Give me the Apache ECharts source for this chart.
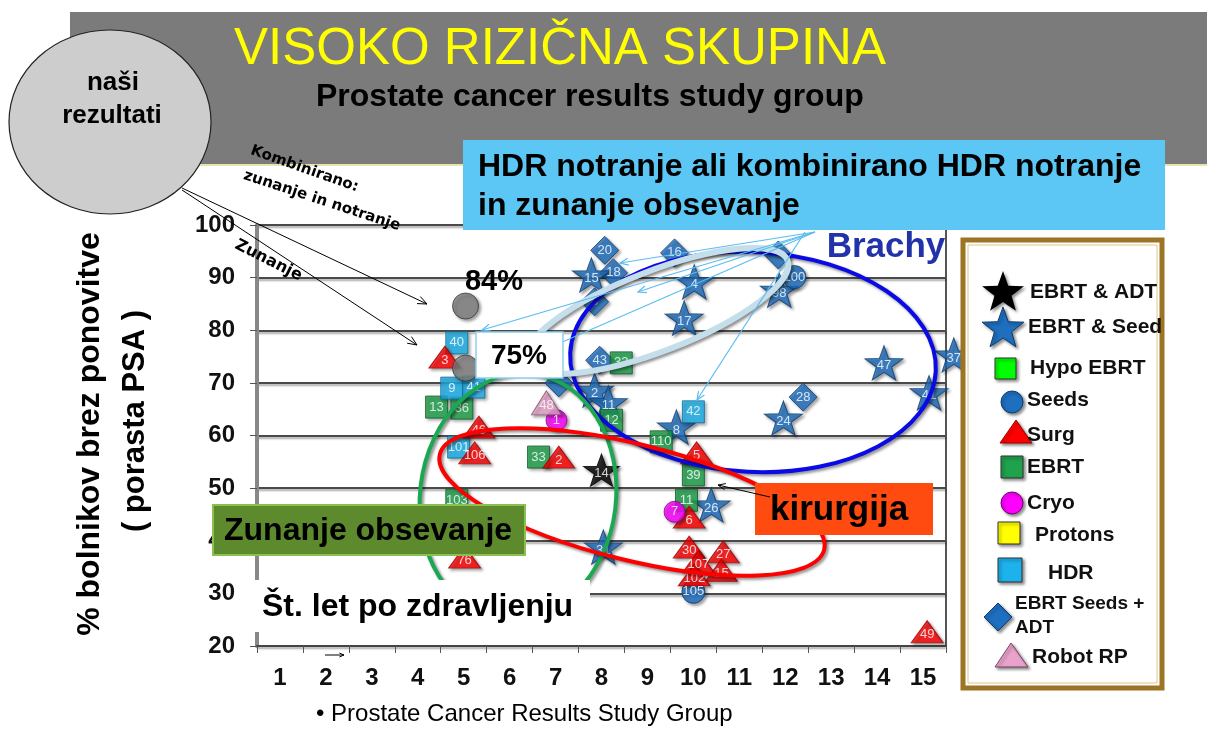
<!DOCTYPE html>
<html><head><meta charset="utf-8">
<script src="https://cdn.jsdelivr.net/npm/echarts@6/dist/echarts.min.js"></script>
<style>html,body{margin:0;padding:0;background:#fff}#c{width:1207px;height:731px}</style>
</head><body><div id="c"></div>
<script>
const FONT = 'Liberation Sans, Arial, Helvetica, sans-serif';

// ---- data (x = years after treatment, y = % without PSA relapse, study id) ----
const xLabels = ['1','2','3','4','5','6','7','8','9','10','11','12','13','14','15'];
const ebrtAdt = [[8.0, 53.4, '14']];
const ebrtSeed = [[7.78, 90.5, '15'], [10.02, 89.2, '4'], [9.80, 82.3, '17'], [11.87, 87.6, '98'], [14.15, 73.8, '47'], [15.67, 75.3, '37'], [15.13, 68.1, '41'], [11.96, 63.3, '24'], [9.63, 61.6, '8'], [10.39, 46.8, '26'], [8.04, 38.8, '31'], [7.85, 68.6, '2'], [8.15, 66.2, '11']];
const ebrtSeedAdt = [[8.07, 95.2, '20'], [8.26, 90.9, '18'], [7.85, 85.4, '8'], [9.59, 94.7, '16'], [7.96, 74.3, '43'], [12.39, 67.3, '28'], [7.07, 70.0, ''], [11.85, 94.3, '']];
const seeds = [[12.2, 90.1, '100'], [10.0, 30.3, '105']];
const hdr = [[4.85, 77.6, '40'], [4.74, 69.0, '9'], [5.22, 69.2, '41'], [10.0, 64.5, '42'], [4.89, 57.8, '101']];
const ebrt = [[4.41, 65.4, '13'], [4.96, 65.2, '36'], [8.43, 73.8, '32'], [9.30, 58.8, '110'], [10.0, 52.5, '39'], [9.85, 47.7, '11'], [6.63, 55.9, '33'], [4.85, 47.7, '103'], [8.22, 62.9, '12']];
const surg = [[4.59, 74.9, '3'], [5.33, 61.6, '46'], [5.24, 56.7, '106'], [7.07, 55.9, '2'], [10.07, 56.7, '5'], [9.91, 44.5, '6'], [9.91, 38.8, '30'], [10.65, 37.9, '27'], [10.11, 36.0, '107'], [10.61, 34.4, '15'], [10.02, 33.5, '102'], [15.09, 22.7, '49'], [5.02, 36.9, '76']];
const cryo = [[7.02, 62.9, '1'], [9.59, 45.5, '7']];
const robotRP = [[6.80, 66.2, '48']];
const ourResults = [[5.04, 84.6, ''], [5.04, 72.8, '']];

const STAR = 'path://M50,0L61.76,33.82L97.55,34.55L69.02,56.18L79.39,90.45L50,70L20.61,90.45L30.98,56.18L2.45,34.55L38.24,33.82Z';
const SHADOW = {shadowBlur: 3, shadowColor: 'rgba(0,0,0,0.45)', shadowOffsetX: 2, shadowOffsetY: 2};

function mk(name, arr, symbol, size, fill, stroke, off) {
  return {
    type: 'scatter', name, xAxisIndex: 0, yAxisIndex: 0, clip: false, z: 5,
    data: arr.map(d => ({name: d[2], value: [d[0], d[1]]})),
    symbol, symbolSize: size, symbolKeepAspect: true,
    itemStyle: Object.assign({color: fill, borderColor: stroke, borderWidth: 1}, SHADOW),
    label: {show: true, position: 'inside', offset: off || [0, 0], formatter: p => p.name || '',
      color: '#fff', fontSize: 13, fontFamily: FONT},
    emphasis: {disabled: true}
  };
}

const series = [
  mk('EBRT Seeds + ADT', ebrtSeedAdt, 'diamond', [28, 28], '#1f6fc0', '#0d3d70'),
  mk('EBRT & Seed', ebrtSeed, STAR, [38, 36], '#1f6fc0', '#0d3d70', [0, 3]),
  mk('Seeds', seeds, 'circle', [23, 23], '#1f6fc0', '#0d3d70'),
  mk('EBRT', ebrt, 'rect', [22, 22], '#1fa24c', '#0c5a26'),
  mk('HDR', hdr, 'rect', [22, 22], '#1cb2ec', '#0b6e99'),
  mk('Surg', surg, 'triangle', [32, 22], '#ff0000', '#a00000', [0, 3]),
  mk('Cryo', cryo, 'circle', [21, 21], '#ff00ff', '#900090'),
  mk('Robot RP', robotRP, 'triangle', [30, 24], '#e8a2cc', '#8a5070', [0, 3]),
  mk('EBRT & ADT', ebrtAdt, STAR, [36, 34], '#000000', '#000000', [0, 3]),
  mk('Naši rezultati', ourResults, 'circle', [26, 26], '#7f7f7f', '#3a3a3a')
];

// ---- annotation helpers ----
const G = [];
function T(x, y, text, font, fill, align, rot, z) {
  G.push({type: 'text', x, y, rotation: rot || 0, z: z || 60, silent: true,
    style: {text, font, fill: fill || '#000', align: align || 'left', verticalAlign: 'middle'}});
}
function R(x, y, w, h, fill, stroke, lw, z) {
  G.push({type: 'rect', shape: {x, y, width: w, height: h}, z: z || 50, silent: true,
    style: {fill: fill || null, stroke: stroke || null, lineWidth: lw || 0}});
}
function E(cx, cy, rx, ry, rot, stroke, lw, z) {
  G.push({type: 'ellipse', x: cx, y: cy, rotation: rot, shape: {cx: 0, cy: 0, rx, ry}, z: z || 30, silent: true,
    style: {fill: null, stroke, lineWidth: lw, shadowBlur: 3, shadowColor: 'rgba(0,0,0,0.45)', shadowOffsetX: 2, shadowOffsetY: 2}});
}
function A(x1, y1, x2, y2, color, w, hl, z) {
  const a = Math.atan2(y2 - y1, x2 - x1);
  const p1 = [x2 - hl * Math.cos(a - 0.4), y2 - hl * Math.sin(a - 0.4)];
  const p2 = [x2 - hl * Math.cos(a + 0.4), y2 - hl * Math.sin(a + 0.4)];
  G.push({type: 'line', shape: {x1, y1, x2, y2}, z: z || 40, silent: true, style: {stroke: color, lineWidth: w}});
  G.push({type: 'polyline', shape: {points: [p1, [x2, y2], p2]}, z: z || 40, silent: true, style: {stroke: color, lineWidth: w, fill: null}});
}
function starPts(cx, cy, Ro, Ri) {
  const p = [];
  for (let i = 0; i < 10; i++) {
    const ang = -Math.PI / 2 + i * Math.PI / 5, r = i % 2 ? Ri : Ro;
    p.push([cx + r * Math.cos(ang), cy + r * Math.sin(ang)]);
  }
  return p;
}

// header
R(70, 12, 1137, 153, '#7b7b7b', null, 0, 1);
G.push({type: 'line', shape: {x1: 70, y1: 165, x2: 1207, y2: 165}, z: 2, silent: true, style: {stroke: '#e8e2b0', lineWidth: 2}});
T(560, 50, 'VISOKO RIZIČNA SKUPINA', '51px ' + FONT, '#ffff00', 'center', 0, 3);
T(316, 97, 'Prostate cancer results study group', 'bold 32px ' + FONT, '#000', 'left', 0, 3);

// "naši rezultati" bubble
G.push({type: 'ellipse', shape: {cx: 110, cy: 122, rx: 101, ry: 92}, z: 70, silent: true,
  style: {fill: '#cdcdcd', stroke: '#222', lineWidth: 1.2}});
T(113, 83, 'naši', 'bold 26px ' + FONT, '#000', 'center', 0, 71);
T(112, 116, 'rezultati', 'bold 26px ' + FONT, '#000', 'center', 0, 71);
A(182, 188, 427, 304, '#000', 1, 10, 72);
A(182, 190, 417, 345, '#000', 1, 10, 72);
T(251, 150, 'Kombinirano:', 'bold 15px DejaVu Sans', '#000', 'left', -0.34, 72);
T(244, 175, 'zunanje in notranje', 'bold 15px DejaVu Sans', '#000', 'left', -0.32, 72);
T(236, 244, 'Zunanje', 'bold 16px DejaVu Sans', '#000', 'left', -0.47, 72);

// HDR box + arrows
R(463, 140, 702, 90, '#5cc6f4', null, 0, 80);
T(478, 167, 'HDR notranje ali kombinirano HDR notranje', 'bold 32px ' + FONT, '#000', 'left', 0, 81);
T(478, 206, 'in zunanje obsevanje', 'bold 32px ' + FONT, '#000', 'left', 0, 81);
const LB = '#5bbdf0';
A(815, 232, 482, 330, LB, 1.2, 9, 45);
A(815, 232, 482, 377, LB, 1.2, 9, 45);
A(815, 232, 620, 263, LB, 1.2, 9, 45);
A(815, 232, 638, 292, LB, 1.2, 9, 45);
A(805, 232, 697, 400, LB, 1.2, 9, 45);

// ellipses
E(753, 362, 183, 110, -0.05, '#0a0ae6', 4, 30);
E(657, 311, 140, 40, 0.37, '#c4deeb', 6, 31);
E(518, 497, 98, 124, -0.12, '#1aa852', 4, 30);
E(632, 502, 198, 58, -0.243, '#ff0000', 4, 30);

T(886, 247, 'Brachy', 'bold 35px ' + FONT, '#2233aa', 'center', 0, 60);
T(494, 282, '84%', 'bold 29px ' + FONT, '#000', 'center', 0, 60);
R(476, 332, 87, 46, '#fff', '#8fd0f0', 1.5, 55);
T(519, 356, '75%', 'bold 28px ' + FONT, '#000', 'center', 0, 56);

R(213, 505, 312, 50, '#5e8a2e', '#8cbf50', 2, 55);
T(224, 531, 'Zunanje obsevanje', 'bold 32px ' + FONT, '#000', 'left', 0, 56);
R(755, 483, 178, 52, '#ff4a10', null, 0, 55);
T(770, 510, 'kirurgija', 'bold 35px ' + FONT, '#000', 'left', 0, 56);
A(770, 497, 718, 485, '#000', 1, 8, 57);
R(245, 580, 345, 52, '#fff', null, 0, 55);
T(262, 607, 'Št. let po zdravljenju', 'bold 32px ' + FONT, '#000', 'left', 0, 56);
A(325, 655, 344, 655, '#000', 1, 5, 57);

// y axis title
T(90, 434, '% bolnikov brez ponovitve', 'bold 32px ' + FONT, '#000', 'center', Math.PI / 2, 60);
T(135, 421, '( porasta PSA )', 'bold 31px ' + FONT, '#000', 'center', Math.PI / 2, 60);
T(316, 714, '• Prostate Cancer Results Study Group', '24px ' + FONT, '#000', 'left', 0, 60);

// legend box
R(963, 240, 199, 448, '#fff', '#9c7424', 5, 20);
R(968, 245, 189, 438, null, '#dcc48e', 1, 21);
const LT = 'bold 21px ' + FONT;
function LS(shape, style) { G.push(Object.assign({z: 22, silent: true}, shape, {style: Object.assign({}, SHADOW, style)})); }
LS({type: 'polygon', shape: {points: starPts(1003, 293, 22, 9)}}, {fill: '#000'});
T(1030, 292, 'EBRT & ADT', LT, '#111', 'left', 0, 23);
LS({type: 'polygon', shape: {points: starPts(1003, 329, 22, 9)}}, {fill: '#1f6fc0', stroke: '#0d3d70', lineWidth: 1});
T(1028, 327, 'EBRT & Seed', LT, '#111', 'left', 0, 23);
LS({type: 'rect', shape: {x: 995, y: 358, width: 21, height: 21}}, {fill: '#00ff00', stroke: '#333', lineWidth: 1});
T(1030, 368, 'Hypo EBRT', LT, '#111', 'left', 0, 23);
LS({type: 'circle', shape: {cx: 1012, cy: 402, r: 11}}, {fill: '#1f6fc0', stroke: '#0d3d70', lineWidth: 1});
T(1027, 400, 'Seeds', LT, '#111', 'left', 0, 23);
LS({type: 'polygon', shape: {points: [[1016, 420], [1000, 443], [1032, 443]]}}, {fill: '#ff0000', stroke: '#a00000', lineWidth: 1});
T(1027, 435, 'Surg', LT, '#111', 'left', 0, 23);
LS({type: 'rect', shape: {x: 1001, y: 456, width: 22, height: 22}}, {fill: '#1fa24c', stroke: '#333', lineWidth: 1});
T(1027, 467, 'EBRT', LT, '#111', 'left', 0, 23);
LS({type: 'circle', shape: {cx: 1012, cy: 503, r: 11}}, {fill: '#ff00ff', stroke: '#700070', lineWidth: 1});
T(1027, 503, 'Cryo', LT, '#111', 'left', 0, 23);
LS({type: 'rect', shape: {x: 998, y: 522, width: 22, height: 22}}, {fill: '#ffff00', stroke: '#333', lineWidth: 1});
T(1035, 535, 'Protons', LT, '#111', 'left', 0, 23);
LS({type: 'rect', shape: {x: 998, y: 558, width: 24, height: 24}}, {fill: '#1cb2ec', stroke: '#333', lineWidth: 1});
T(1048, 573, 'HDR', LT, '#111', 'left', 0, 23);
LS({type: 'polygon', shape: {points: [[998, 603], [1012, 617], [998, 631], [984, 617]]}}, {fill: '#1f6fc0', stroke: '#0d3d70', lineWidth: 1});
T(1015, 604, 'EBRT Seeds +', 'bold 19px ' + FONT, '#111', 'left', 0, 23);
T(1015, 628, 'ADT', 'bold 19px ' + FONT, '#111', 'left', 0, 23);
LS({type: 'polygon', shape: {points: [[1011, 643], [995, 667], [1028, 667]]}}, {fill: '#e8a2cc', stroke: '#7a4060', lineWidth: 1});
T(1032, 657, 'Robot RP', LT, '#111', 'left', 0, 23);

const chart = echarts.init(document.getElementById('c'), null, {renderer: 'canvas'});
chart.setOption({
  animation: false,
  backgroundColor: '#fff',
  grid: {left: 257, right: 261, top: 225, bottom: 85, show: true, borderColor: '#555', borderWidth: 2, backgroundColor: '#fff'},
  xAxis: [
    {type: 'value', min: 0.5, max: 15.5, show: false, position: 'bottom'},
    {type: 'category', data: xLabels, position: 'bottom', boundaryGap: true,
      axisLine: {lineStyle: {color: '#444', width: 2}},
      axisTick: {show: true, length: 7, lineStyle: {color: '#555'}},
      axisLabel: {fontSize: 24, fontWeight: 'bold', color: '#111', margin: 20, fontFamily: FONT},
      splitLine: {show: false}}
  ],
  yAxis: {type: 'value', min: 20, max: 100, interval: 10,
    axisLine: {show: true, lineStyle: {color: '#888', width: 4}},
    axisTick: {show: true, length: 7, lineStyle: {color: '#555'}},
    axisLabel: {fontSize: 24, fontWeight: 'bold', color: '#111', margin: 22, fontFamily: FONT},
    splitLine: {lineStyle: {color: '#4a4a4a', width: 2, shadowBlur: 2, shadowColor: 'rgba(0,0,0,0.35)', shadowOffsetY: 2}}},
  series,
  graphic: {elements: G}
});
</script>
</body></html>
